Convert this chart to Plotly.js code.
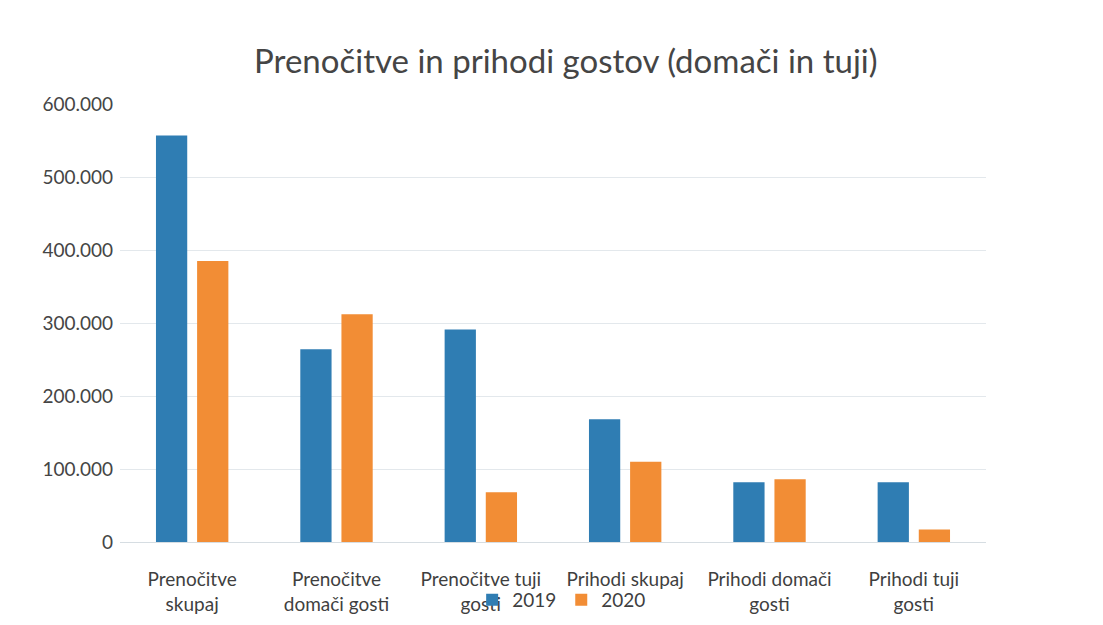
<!DOCTYPE html>
<html>
<head>
<meta charset="utf-8">
<script src="https://cdn.plot.ly/plotly-3.0.1.min.js"></script>
<style>html,body{margin:0;padding:0;background:#fff;}#chart{width:1103px;height:625px;}</style>
</head>
<body>
<div id="chart"></div>
<script>
const categories = ["Prenočitve<br>skupaj", "Prenočitve<br>domači gosti", "Prenočitve tuji<br>gosti", "Prihodi skupaj", "Prihodi domači<br>gosti", "Prihodi tuji<br>gosti"];
const values2019 = [557000, 264000, 291000, 168000, 82000, 82000];
const values2020 = [385000, 312000, 68000, 110000, 86000, 17000];
const seriesNames = ["2019", "2020"];
const tickValues = [0, 100000, 200000, 300000, 400000, 500000, 600000];

const font = "Lato, 'Open Sans', sans-serif";
const data = [
  {type: "bar", name: seriesNames[0], x: categories, y: values2019, marker: {color: "#2f7db3"}},
  {type: "bar", name: seriesNames[1], x: categories, y: values2020, marker: {color: "#f28d35"}}
];
const layout = {
  width: 1103, height: 625,
  margin: {l: 120, r: 117, t: 104, b: 83, autoexpand: false},
  paper_bgcolor: "#ffffff", plot_bgcolor: "#ffffff",
  separators: ",.",
  title: {text: "Prenočitve in prihodi gostov (domači in tuji)", x: 0.513, xanchor: "center", y: 0.902, yanchor: "middle",
          font: {family: font, size: 33, color: "#454545"}},
  barmode: "group", bargap: 0.43, bargroupgap: 0.24,
  xaxis: {tickfont: {family: font, size: 19, color: "#3f3f3f"}, showline: false, ticks: "", showgrid: false, ticklabelstandoff: 24},
  yaxis: {range: [0, 600000], tickvals: tickValues, tickformat: ",d", tickfont: {family: font, size: 19, color: "#454545"},
          gridcolor: "#e3e8ec", gridwidth: 1, zeroline: true, zerolinecolor: "#d6dde2", zerolinewidth: 1, ticks: "", ticklabelstandoff: 6},
  showlegend: true,
  legend: {orientation: "h", x: 0.51, xanchor: "center", y: -0.132, yanchor: "middle", font: {family: font, size: 19, color: "#3f3f3f"},
           bgcolor: "rgba(0,0,0,0)", itemwidth: 30, traceorder: "normal"}
};
Plotly.newPlot("chart", data, layout, {displayModeBar: false, staticPlot: true});
</script>
</body>
</html>
